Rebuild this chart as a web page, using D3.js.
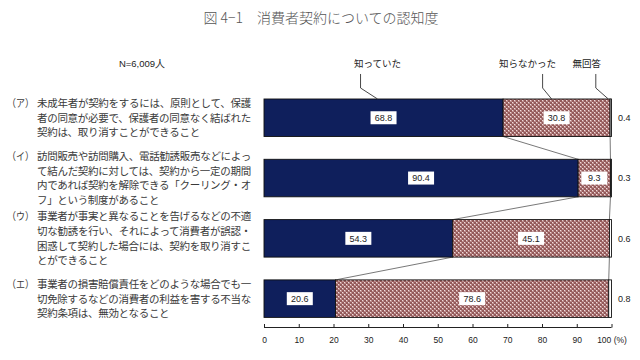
<!DOCTYPE html>
<html><head><meta charset="utf-8">
<script src="https://cdn.jsdelivr.net/npm/d3@7"></script>
<style>body{margin:0;background:#fff}svg{display:block}</style>
</head><body>
<svg id="c" width="640" height="360"></svg>
<script>
const title = "図 4−1　消費者契約についての認知度";
const sampleNote = "N=6,009人";
const seriesNames = ["知っていた", "知らなかった", "無回答"];
const categoryMarks = ["（ア）", "（イ）", "（ウ）", "（エ）"];
const categoryLines = [
  ["未成年者が契約をするには、原則として、保護", "者の同意が必要で、保護者の同意なく結ばれた", "契約は、取り消すことができること"],
  ["訪問販売や訪問購入、電話勧誘販売などによっ", "て結んだ契約に対しては、契約から一定の期間", "内であれば契約を解除できる「クーリング・オ", "フ」という制度があること"],
  ["事業者が事実と異なることを告げるなどの不適", "切な勧誘を行い、それによって消費者が誤認・", "困惑して契約した場合には、契約を取り消すこ", "とができること"],
  ["事業者の損害賠償責任をどのような場合でも一", "切免除するなどの消費者の利益を害する不当な", "契約条項は、無効となること"]
];
const knew = [68.8, 90.4, 54.3, 20.6];
const didNotKnow = [30.8, 9.3, 45.1, 78.6];
const noAnswer = [0.4, 0.3, 0.6, 0.8];
const xTicks = [0, 10, 20, 30, 40, 50, 60, 70, 80, 90, 100];
const xTickLabels = ["0", "10", "20", "30", "40", "50", "60", "70", "80", "90", "100 (%)"];

const svg = d3.select("#c");
const jp = "'Noto Sans CJK JP', sans-serif";
const lat = "'Liberation Sans', Arial, sans-serif";

const x = d3.scaleLinear().domain([0, 100]).range([264, 611.5]);
const y = d3.scaleBand().domain(d3.range(4)).range([87.6, 328.8]).paddingInner(0.378).paddingOuter(0.189);

// pattern
const defs = svg.append("defs");
const pat = defs.append("pattern").attr("id", "chk").attr("patternUnits", "userSpaceOnUse").attr("width", 4).attr("height", 4);
pat.append("rect").attr("width", 4).attr("height", 4).attr("fill", "#bd8c8c");
pat.append("rect").attr("x", 0).attr("y", 0).attr("width", 2).attr("height", 2).attr("fill", "#935a5a");
pat.append("rect").attr("x", 2).attr("y", 2).attr("width", 2).attr("height", 2).attr("fill", "#935a5a");
pat.append("rect").attr("x", 2).attr("y", 0).attr("width", 1).attr("height", 1).attr("fill", "#efdcdc");
pat.append("rect").attr("x", 0).attr("y", 2).attr("width", 1).attr("height", 1).attr("fill", "#efdcdc");

// title
svg.append("text").attr("x", 321).attr("y", 23).attr("text-anchor", "middle")
  .attr("font-family", jp).attr("font-size", 14).attr("fill", "#555").attr("font-weight", 300).text(title);

svg.append("text").attr("x", 142).attr("y", 67).attr("text-anchor", "middle")
  .attr("font-family", lat).attr("font-size", 9.5).attr("fill", "#222").text(sampleNote);

const rows = knew.map((k, i) => ({i, segs: [
  {s: 0, v: k, fill: "#0f1f5c", lab: k},
  {s: k, v: didNotKnow[i], fill: "url(#chk)", lab: didNotKnow[i]},
  {s: k + didNotKnow[i], v: noAnswer[i], fill: "#fff", lab: null}
]}));

// connectors
const conn = svg.append("g").attr("stroke", "#555").attr("stroke-width", 0.8).attr("fill", "none");
for (let i = 0; i < 3; i++) {
  const b1 = [knew[i], knew[i] + didNotKnow[i]];
  const b2 = [knew[i + 1], knew[i + 1] + didNotKnow[i + 1]];
  for (let j = 0; j < 2; j++) {
    conn.append("line").attr("x1", x(b1[j])).attr("y1", y(i) + y.bandwidth())
      .attr("x2", x(b2[j])).attr("y2", y(i + 1));
  }
}

// bars
const g = svg.append("g");
rows.forEach(r => {
  r.segs.forEach(s => {
    g.append("rect").attr("x", x(s.s)).attr("y", y(r.i)).attr("width", x(s.s + s.v) - x(s.s))
      .attr("height", y.bandwidth()).attr("fill", s.fill).attr("stroke", "#111").attr("stroke-width", 0.9);
    if (s.lab !== null) {
      const cx = x(s.s + s.v / 2), cy = y(r.i) + y.bandwidth() / 2;
      g.append("rect").attr("x", cx - 13).attr("y", cy - 6.5).attr("width", 26).attr("height", 13).attr("fill", "#fff");
      g.append("text").attr("x", cx).attr("y", cy + 3.2).attr("text-anchor", "middle")
        .attr("font-family", lat).attr("font-size", 9).attr("fill", "#222").text(s.lab.toFixed(1));
    }
  });
  g.append("text").attr("x", 618).attr("y", y(r.i) + y.bandwidth() / 2 + 3.2)
    .attr("font-family", lat).attr("font-size", 9).attr("fill", "#222").text(noAnswer[r.i].toFixed(1));
});

// category labels
const lab = svg.append("g").attr("font-family", jp).attr("font-size", 10.5).attr("fill", "#3a3a3a");
categoryLines.forEach((lines, i) => {
  const cy = y(i) + y.bandwidth() / 2;
  const lh = 14.6;
  const top = cy - (lines.length - 1) * lh / 2;
  lab.append("text").attr("x", 7).attr("y", top + 4).attr("textLength", 27).attr("lengthAdjust", "spacingAndGlyphs").text(categoryMarks[i]);
  lines.forEach((t, k) => {
    lab.append("text").attr("x", 37).attr("y", top + k * lh + 4)
      .attr("textLength", t.length * 10.2).attr("lengthAdjust", "spacing").text(t);
  });
});

// series labels with leaders
const r0 = rows[0];
const leaderDefs = [
  {name: seriesNames[0], seg: r0.segs[0], dx: -6, vx: -17},
  {name: seriesNames[1], seg: r0.segs[1], dx: -5, vx: -9},
  {name: seriesNames[2], seg: r0.segs[2], dx: -2.5, vx: -12.5}
];
const lg = svg.append("g");
leaderDefs.forEach((d, k) => {
  const ex = x(d.seg.s + d.seg.v / 2) + d.dx;
  const vx = ex + d.vx;
  const ty = y(0);
  lg.append("path").attr("d", `M${vx},${ty - 25}L${vx},${ty - 11}L${ex},${ty}`)
    .attr("fill", "none").attr("stroke", "#333").attr("stroke-width", 0.9);
  const tx = k === 0 ? ex : (k === 1 ? vx - 15 : vx - 9);
  lg.append("text").attr("x", tx).attr("y", 67).attr("text-anchor", "middle")
    .attr("font-family", jp).attr("font-size", 9.5).attr("fill", "#222").text(d.name);
});

// axis
const ax = svg.append("g").attr("transform", "translate(0,327.5)")
  .call(d3.axisBottom(x).tickValues(xTicks).tickSize(-3.5).tickPadding(9).tickFormat((d, i) => xTickLabels[i]));
ax.select(".domain").attr("stroke", "#222").attr("d", `M${x(0)},0H${x(100)}`);
ax.selectAll(".tick line").attr("stroke", "#222");
ax.selectAll("text").attr("font-family", lat).attr("font-size", 8.5).attr("fill", "#222");
</script>
</body></html>
